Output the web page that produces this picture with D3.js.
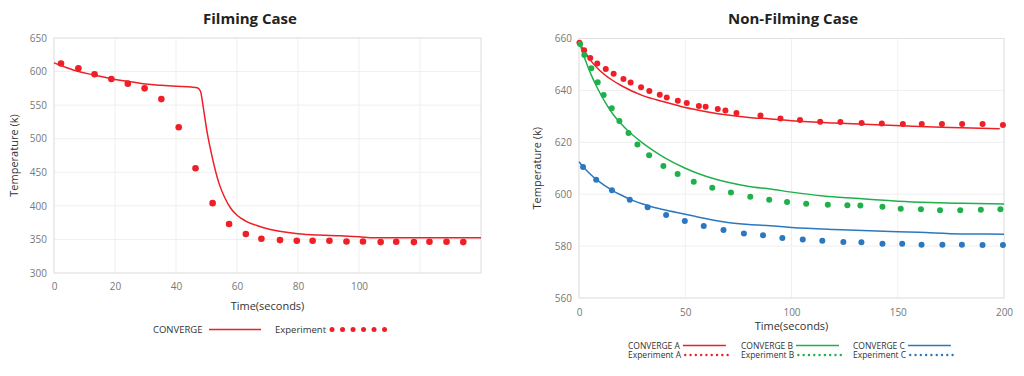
<!DOCTYPE html>
<html>
<head>
<meta charset="utf-8">
<script src="https://cdn.jsdelivr.net/npm/d3@7"></script>
<style>
body { margin: 0; background: #fff; }
svg { font-family: "Open Sans", Lato, sans-serif; }
</style>
</head>
<body>
<div id="chart"></div>
<script>
// ---- data ----
var filmConverge = [[0,613],[4,606],[8,600],[13,595],[19,589],[25,585],[30,581.5],[35,579.5],[40,578],[45,577],[47,576],[48,571],[49,545],[50,515],[52,470],[54,435],[56,412],[58,396],[60,386],[63,377],[67,370],[70,366],[75,361.5],[80,358.5],[87,356.5],[94,355.5],[100,354],[105,352.5],[140,352.5]];
var filmExpT = [2.3,8,13.3,18.8,24.2,29.7,35.2,40.9,46.4,52,57.4,62.9,68,74.1,79.6,84.8,90.3,95.9,101.3,107.1,112.2,118,123.1,128.7,134.2];
var filmExpV = [612,605,596,589,582,575,559,517,456,404,373,358,351,349,348,348,348,347,347,346,346.5,346,346.5,346.5,346];

var convA = [[0,658.5],[3,654.5],[6,651],[10,647.5],[15,644.3],[20,641.8],[30,638],[40,635.6],[50,633.4],[60,631.8],[70,630.5],[80,629.6],[90,629],[100,628.3],[120,627.4],[140,626.8],[160,626.1],[180,625.6],[198,625.2]];
var convB = [[0,659],[2,654],[4,649.5],[6,645.5],[8,642],[10,638.8],[13,634.5],[16,630.8],[20,627],[25,623],[30,619.7],[35,616.8],[40,614.2],[50,610],[60,606.8],[70,604.6],[80,603],[90,602],[100,600.8],[115,599.3],[130,598.4],[150,597.3],[165,596.8],[180,596.5],[200,596.2]];
var convC = [[0,612.5],[2,610.5],[5,608],[8,605.8],[12,603.4],[16,601.3],[20,599.6],[25,597.7],[30,596.2],[35,595],[40,594],[50,592.3],[60,590.5],[70,589.1],[80,588.3],[90,587.8],[100,587.2],[120,586.4],[140,585.8],[160,585.3],[180,584.7],[200,584.6]];

var expAT = [0.2,2.4,5.3,8.6,12.6,16.3,20.9,24.3,29.2,33.1,38,41.3,46.5,50.7,56.4,59.6,65.3,68.9,74.1,85.4,94.8,104,113.5,123,133,142.5,152.4,161.3,170.8,180.3,189.9,199.5];
var expAV = [658.4,655.5,652.5,650.4,648.2,646.4,644.4,643,641.2,639.8,638.3,637.3,636,635.1,634,633.7,632.8,632.3,631.3,630.3,629.2,628.6,627.9,627.8,627.4,627.2,627.1,627.1,627.1,627.1,627.1,626.7];
var expBT = [0.5,2.5,5.8,8.8,11.6,15.4,19,23.3,27.5,33,39.7,46.4,54,62.7,71.5,80.6,89.5,97.9,106.9,117.1,126.3,132.4,142.8,151.4,160.9,169.9,179.4,189.1,198.3];
var expBV = [657.9,653.6,648.5,643.1,638.2,633.1,628.2,623.6,619.2,615,610.9,607.8,604.8,602.5,600.7,599,597.9,597,596.3,595.9,595.7,595.6,595.2,594.4,594.2,593.8,593.8,594,594.2];
var expCT = [1.9,8.1,15.5,23.9,32.3,41,49.8,58.7,68,77.6,86.6,95.7,105.3,114.5,124.4,132.9,142.8,152.1,161.2,171,180.2,189.9,199.5];
var expCV = [610.5,605.6,601.5,597.9,595,592,589.7,587.7,586.2,584.9,584.2,583.1,582.5,582.1,581.6,581.5,580.9,580.9,580.5,580.5,580.5,580.4,580.4];

var leftXTicks = [0,20,40,60,80,100];
var leftXGrid = [0,20,40,60,80,100,120,140];
var leftYTicks = [300,350,400,450,500,550,600,650];
var rightXTicks = [0,50,100,150,200];
var rightYTicks = [560,580,600,620,640,660];

var RED = "#ee1f26", GREEN = "#1fb04c", BLUE = "#2b78c0";

var svg = d3.select("#chart").append("svg")
    .attr("width", 1024).attr("height", 376);

function panel(opt) {
  var g = svg.append("g");
  var x = d3.scaleLinear().domain(opt.xDomain).range([opt.left, opt.right]);
  var y = d3.scaleLinear().domain(opt.yDomain).range([opt.bottom, opt.top]);

  // grid
  g.selectAll(".vg").data(opt.xGrid).enter().append("line")
    .attr("x1", d => x(d)).attr("x2", d => x(d))
    .attr("y1", opt.top).attr("y2", opt.bottom)
    .attr("stroke", "#efefef");
  g.selectAll(".hg").data(opt.yTicks).enter().append("line")
    .attr("x1", opt.left).attr("x2", opt.right)
    .attr("y1", d => y(d)).attr("y2", d => y(d))
    .attr("stroke", "#efefef");
  g.append("rect")
    .attr("x", opt.left).attr("y", opt.top)
    .attr("width", opt.right - opt.left).attr("height", opt.bottom - opt.top)
    .attr("fill", "none").attr("stroke", "#e2e2e2");

  // axes
  var xa = g.append("g").attr("transform", "translate(0," + opt.bottom + ")")
    .call(d3.axisBottom(x).tickValues(opt.xTicks).tickSize(0).tickPadding(opt.xPad));
  var ya = g.append("g").attr("transform", "translate(" + opt.left + ",0)")
    .call(d3.axisLeft(y).tickValues(opt.yTicks).tickSize(0).tickPadding(7));
  [xa, ya].forEach(function (a) {
    a.select(".domain").remove();
    a.selectAll("text").attr("fill", "#777").style("font-size", "10px")
      .style("font-family", "'Open Sans', sans-serif");
  });

  g.append("text").attr("x", opt.titleX).attr("y", 24)
    .attr("text-anchor", "middle").style("font-size", "15px").style("font-weight", "bold")
    .attr("fill", "#222").text(opt.title);
  g.append("text").attr("x", (opt.left + opt.right) / 2).attr("y", opt.xLabelY)
    .attr("text-anchor", "middle").style("font-size", "11px").attr("fill", "#333")
    .text("Time(seconds)");
  g.append("text")
    .attr("transform", "translate(" + opt.yLabelX + "," + ((opt.top + opt.bottom) / 2) + ") rotate(-90)")
    .attr("text-anchor", "middle").style("font-size", "11px").attr("fill", "#333")
    .text("Temperature (k)");

  return {g: g, x: x, y: y};
}

function drawLine(p, data, color) {
  p.g.append("path").datum(data)
    .attr("fill", "none").attr("stroke", color).attr("stroke-width", 1.5)
    .attr("d", d3.line().x(d => p.x(d[0])).y(d => p.y(d[1])).curve(d3.curveMonotoneX));
}
function drawDots(p, ts, vs, color, r) {
  p.g.selectAll(null).data(ts).enter().append("circle")
    .attr("cx", d => p.x(d)).attr("cy", (d, i) => p.y(vs[i]))
    .attr("r", r).attr("fill", color);
}

// ---- Filming Case ----
var L = panel({
  left: 54, right: 481, top: 38, bottom: 273,
  xDomain: [0, 140], yDomain: [300, 650],
  xTicks: leftXTicks, xGrid: leftXGrid, yTicks: leftYTicks,
  xPad: 10, title: "Filming Case", titleX: 250, xLabelY: 310, yLabelX: 18
});
drawLine(L, filmConverge, RED);
drawDots(L, filmExpT, filmExpV, RED, 3.3);

var lg = svg.append("g").style("font-size", "9.5px").attr("fill", "#333");
lg.append("text").attr("x", 153).attr("y", 332.5).text("CONVERGE");
lg.append("line").attr("x1", 209).attr("x2", 261).attr("y1", 329.5).attr("y2", 329.5)
  .attr("stroke", RED).attr("stroke-width", 1.5);
var expText = lg.append("text").attr("x", 275).attr("y", 332.5).text("Experiment");
var expEnd = 275 + expText.node().getComputedTextLength();
lg.selectAll("circle").data(d3.range(6)).enter().append("circle")
  .attr("cx", d => Math.max(329.5, expEnd + 6) + d * 10.5).attr("cy", 329.5).attr("r", 2.5).attr("fill", RED);

// ---- Non-Filming Case ----
var R = panel({
  left: 579, right: 1004, top: 38.5, bottom: 298,
  xDomain: [0, 200], yDomain: [560, 660],
  xTicks: rightXTicks, xGrid: rightXTicks, yTicks: rightYTicks,
  xPad: 11, title: "Non-Filming Case", titleX: 793, xLabelY: 330, yLabelX: 541
});
drawLine(R, convA, RED);
drawLine(R, convB, GREEN);
drawLine(R, convC, BLUE);
drawDots(R, expAT, expAV, RED, 3);
drawDots(R, expBT, expBV, GREEN, 3);
drawDots(R, expCT, expCV, BLUE, 3);

var legendNames = ["A", "B", "C"];
var legendColors = [RED, GREEN, BLUE];
var legendX = [628, 741, 853];
var rg = svg.append("g").style("font-size", "8.5px").attr("fill", "#333");
legendNames.forEach(function (n, i) {
  var lx = legendX[i];
  var t1 = rg.append("text").attr("x", lx).attr("y", 348.5).text("CONVERGE " + n);
  var t2 = rg.append("text").attr("x", lx).attr("y", 358).text("Experiment " + n);
  var w1 = t1.node().getComputedTextLength();
  var w2 = t2.node().getComputedTextLength();
  rg.append("line").attr("x1", lx + w1 + 3).attr("x2", lx + w1 + 46)
    .attr("y1", 345.5).attr("y2", 345.5).attr("stroke", legendColors[i]).attr("stroke-width", 1.3);
  rg.selectAll(null).data(d3.range(9)).enter().append("circle")
    .attr("cx", d => lx + w2 + 4 + d * 5.3).attr("cy", 355).attr("r", 1.2)
    .attr("fill", legendColors[i]);
});
</script>
</body>
</html>
